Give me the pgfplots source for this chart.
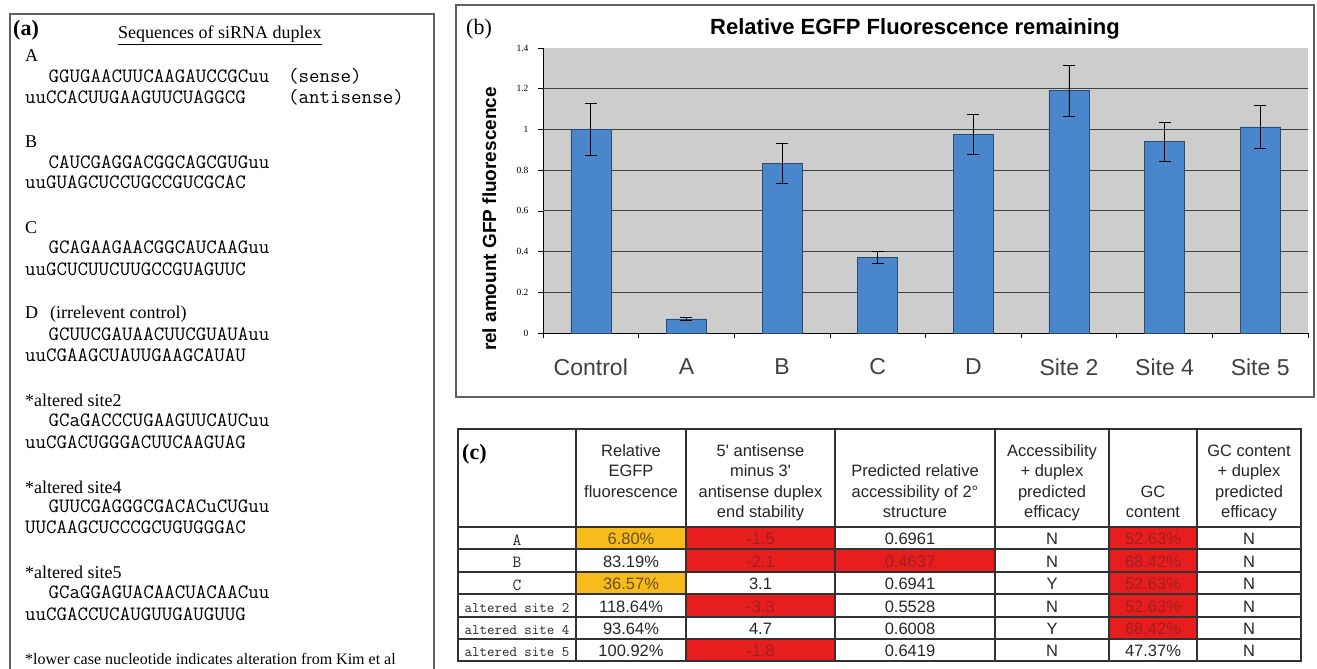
\documentclass[border=0pt]{standalone}
\usepackage{pgfplots}
\pgfplotsset{compat=1.18}
\usepackage{fontspec}
\setmainfont{Liberation Serif}
\newfontfamily\arial{Liberation Sans}
\newcommand{\fs}[1]{\fontsize{#1}{#1}\selectfont}
\newcommand{\sq}{\ttfamily\fs{20.4}\addfontfeatures{FakeBold=0.5}}
\definecolor{plotgray}{HTML}{CDCDCD}
\definecolor{barblue}{HTML}{4A86CC}
\definecolor{barline}{HTML}{2A4A70}
\definecolor{cellred}{HTML}{E81E1E}
\definecolor{cellorange}{HTML}{F7BB1C}
\definecolor{redtext}{HTML}{A02020}
\definecolor{orangetext}{HTML}{6B5020}
\definecolor{framegray}{HTML}{606060}
\begin{document}
\begin{tikzpicture}
\path[use as bounding box] (0pt,0pt) rectangle (1317pt,-669pt);
\begin{axis}[
  at={(543pt,-333pt)}, anchor=south west,
  scale only axis, width=765pt, height=285pt,
  xmin=-0.5, xmax=7.5, ymin=0, ymax=1.4,
  axis x line*=bottom, axis y line*=left,
  axis line style={black, line width=0.8pt},
  axis background/.style={fill=plotgray},
  tick align=outside, major tick length=5pt,
  tick style={black, line width=0.6pt},
  xtick={-0.5,0.5,1.5,2.5,3.5,4.5,5.5,6.5,7.5},
  xticklabels={},
  extra x ticks={0,1,2,3,4,5,6,7},
  extra x tick labels={Control,A,B,C,D,Site 2,Site 4,Site 5},
  extra x tick style={major tick length=0pt, xticklabel style={font=\arial\fs{23}, text=black!75, yshift=-22pt}},
  ytick={0,0.2,0.4,0.6,0.8,1,1.2,1.4},
  yticklabels={0,0.2,0.4,0.6,0.8,1,1.2,1.4},
  yticklabel style={font=\fs{9.5}, xshift=-6pt},
  extra y ticks={0.2,0.4,0.6,0.8,1,1.2},
  extra y tick labels={},
  extra y tick style={ymajorgrids=true, major tick length=0pt, grid style={black!75, line width=0.9pt}},
  ylabel={rel amount GFP fluorescence},
  ylabel style={font=\arial\bfseries\fs{19}, at={(axis description cs:-0.07,0.4)}, anchor=center},
  ybar, bar width=40pt,
  clip=false,
]
\addplot[fill=barblue, draw=barline, line width=0.6pt,
  error bars/.cd, y dir=both, y explicit,
  error bar style={black, line width=0.8pt},
  error mark options={black, line width=0.8pt, mark size=6pt, rotate=90}]
coordinates {(0,1.0) +- (0,0.126) (1,0.069) +- (0,0.006) (2,0.835) +- (0,0.098) (3,0.372) +- (0,0.03) (4,0.976) +- (0,0.099) (5,1.19) +- (0,0.126) (6,0.94) +- (0,0.096) (7,1.012) +- (0,0.107)};
\end{axis}
\begin{scope}[x=1pt,y=-1pt]
% ---------- panel (a)
\draw[line width=1.6pt, framegray] (10,670) -- (10,14) -- (434,14) -- (434,670);
\node[anchor=base west, inner sep=0pt] at (13,36) {\fs{22}\bfseries (a)};
\node[anchor=base west, inner sep=0pt] at (118,39) {\fs{18}\underline{Sequences of siRNA duplex}};
\begin{scope}[every node/.style={anchor=base west, inner sep=0pt}]
\node at (25,62) {\fs{18}A};
\node at (48.5,82) {\sq GGUGAACUUCAAGAUCCGCuu};
\node at (25,103) {\sq uuCCACUUGAAGUUCUAGGCG};
\node at (288,82) {\ttfamily\fs{20.4}(sense)};
\node at (288,103) {\ttfamily\fs{20.4}(antisense)};
\node at (25,147) {\fs{18}B};
\node at (48.5,168) {\sq CAUCGAGGACGGCAGCGUGuu};
\node at (25,188) {\sq uuGUAGCUCCUGCCGUCGCAC};
\node at (25,233) {\fs{18}C};
\node at (48.5,253) {\sq GCAGAAGAACGGCAUCAAGuu};
\node at (25,275) {\sq uuGCUCUUCUUGCCGUAGUUC};
\node at (25,318) {\fs{18}D};
\node at (50,318) {\fs{18}(irrelevent control)};
\node at (48.5,340) {\sq GCUUCGAUAACUUCGUAUAuu};
\node at (25,361) {\sq uuCGAAGCUAUUGAAGCAUAU};
\node at (25,406) {\fs{18}*altered site2};
\node at (48.5,426) {\sq GCaGACCCUGAAGUUCAUCuu};
\node at (25,448) {\sq uuCGACUGGGACUUCAAGUAG};
\node at (25,493) {\fs{18}*altered site4};
\node at (48.5,512) {\sq GUUCGAGGGCGACACuCUGuu};
\node at (25,533) {\sq UUCAAGCUCCCGCUGUGGGAC};
\node at (25,578) {\fs{18}*altered site5};
\node at (48.5,598) {\sq GCaGGAGUACAACUACAACuu};
\node at (25,620) {\sq uuCGACCUCAUGUUGAUGUUG};
\node at (25,664) {\fs{16}*lower case nucleotide indicates alteration from Kim et al};
\end{scope}
% ---------- panel (b)
\draw[line width=1.4pt, framegray] (456,5) rectangle (1314,397);
\node[anchor=base west, inner sep=0pt] at (466,35) {\fs{22}(b)};
\node[anchor=base, inner sep=0pt] at (915,35) {\arial\bfseries\fs{22}Relative EGFP Fluorescence remaining};
% ---------- panel (c)
\fill[cellorange] (576,527) rectangle (686,549);
\fill[cellorange] (576,572) rectangle (686,594);
\fill[cellred] (686,527) rectangle (835,572);
\fill[cellred] (686,594) rectangle (835,617);
\fill[cellred] (686,639) rectangle (835,661);
\fill[cellred] (835,549) rectangle (995,572);
\fill[cellred] (1109,527) rectangle (1197,639);
\begin{scope}[line width=1.2pt, black!80]
\draw (458,429) rectangle (1301,661);
\foreach \x in {576,686,835,995,1109,1197} \draw (\x,429) -- (\x,661);
\foreach \y in {527,549,572,594,617,639} \draw (458,\y) -- (1301,\y);
\end{scope}
\node[anchor=base west, inner sep=0pt] at (462,459) {\fs{22}\bfseries (c)};
\begin{scope}[every node/.style={anchor=base, inner sep=0pt, font=\arial\fs{16.5}, text=black!85}]
% header
\node at (631,456) {Relative};
\node at (631,476.5) {EGFP};
\node at (631,497) {fluorescence};
\node at (760.5,456) {5' antisense};
\node at (760.5,476.5) {minus 3'};
\node at (760.5,497) {antisense duplex};
\node at (760.5,517.5) {end stability};
\node at (915,476.5) {Predicted relative};
\node at (915,497) {accessibility of 2°};
\node at (915,517.5) {structure};
\node at (1052,456) {Accessibility};
\node at (1052,476.5) {+ duplex};
\node at (1052,497) {predicted};
\node at (1052,517.5) {efficacy};
\node at (1153,497) {GC};
\node at (1153,517.5) {content};
\node at (1249,456) {GC content};
\node at (1249,476.5) {+ duplex};
\node at (1249,497) {predicted};
\node at (1249,517.5) {efficacy};
% row labels
\node[font=\ttfamily\fs{17}\addfontfeatures{FakeBold=0.6}] at (517,545) {A};
\node[font=\ttfamily\fs{17}\addfontfeatures{FakeBold=0.6}] at (517,567.5) {B};
\node[font=\ttfamily\fs{17}\addfontfeatures{FakeBold=0.6}] at (517,590) {C};
\node[font=\ttfamily\fs{14.5}\addfontfeatures{FakeBold=0.6}] at (517,612) {altered site 2};
\node[font=\ttfamily\fs{14.5}\addfontfeatures{FakeBold=0.6}] at (517,634.5) {altered site 4};
\node[font=\ttfamily\fs{14.5}\addfontfeatures{FakeBold=0.6}] at (517,656.5) {altered site 5};
% column: relative EGFP fluorescence
\node[text=orangetext] at (631,544.5) {6.80\%};
\node at (631,567) {83.19\%};
\node[text=orangetext] at (631,589.5) {36.57\%};
\node at (631,612) {118.64\%};
\node at (631,634.5) {93.64\%};
\node at (631,656.5) {100.92\%};
% column: duplex end stability
\node[text=redtext] at (760.5,544.5) {-1.5};
\node[text=redtext] at (760.5,567) {-2.1};
\node at (760.5,589.5) {3.1};
\node[text=redtext] at (760.5,612) {-3.3};
\node at (760.5,634.5) {4.7};
\node[text=redtext] at (760.5,656.5) {-1.8};
% column: accessibility
\node at (910,544.5) {0.6961};
\node[text=redtext] at (910,567) {0.4637};
\node at (910,589.5) {0.6941};
\node at (910,612) {0.5528};
\node at (910,634.5) {0.6008};
\node at (910,656.5) {0.6419};
% column: accessibility + duplex
\node at (1052,544.5) {N};
\node at (1052,567) {N};
\node at (1052,589.5) {Y};
\node at (1052,612) {N};
\node at (1052,634.5) {Y};
\node at (1052,656.5) {N};
% column: GC content
\node[text=redtext] at (1153,544.5) {52.63\%};
\node[text=redtext] at (1153,567) {68.42\%};
\node[text=redtext] at (1153,589.5) {52.63\%};
\node[text=redtext] at (1153,612) {52.63\%};
\node[text=redtext] at (1153,634.5) {68.42\%};
\node at (1153,656.5) {47.37\%};
% column: GC + duplex
\node at (1249,544.5) {N};
\node at (1249,567) {N};
\node at (1249,589.5) {N};
\node at (1249,612) {N};
\node at (1249,634.5) {N};
\node at (1249,656.5) {N};
\end{scope}
\end{scope}
\end{tikzpicture}
\end{document}
